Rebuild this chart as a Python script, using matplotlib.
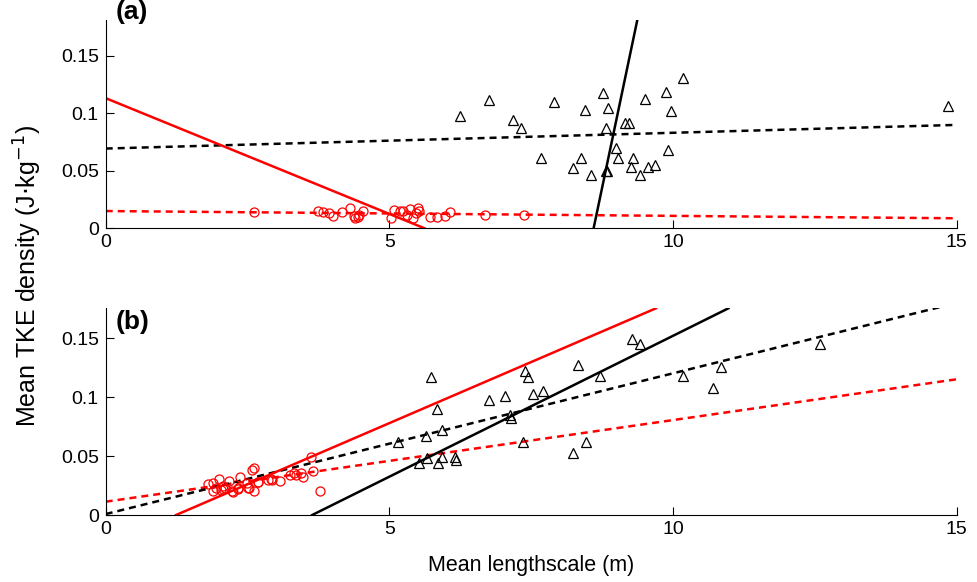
import numpy as np
import matplotlib
matplotlib.use("Agg")
import matplotlib.pyplot as plt

plt.rcParams['font.family'] = ['Liberation Sans', 'DejaVu Sans']

# panel (a) data
a_circ_x = [2.62, 3.75, 3.83, 3.93, 4.01, 4.17, 4.31, 4.37, 4.40, 4.44, 4.47, 4.53,
            5.03, 5.08, 5.18, 5.24, 5.31, 5.36, 5.42, 5.47, 5.50, 5.52, 5.71, 5.84,
            5.98, 6.07, 6.69, 7.38]
a_circ_y = [0.0144, 0.0153, 0.0142, 0.0136, 0.0107, 0.0142, 0.0174, 0.0107, 0.0087, 0.0096,
            0.0116, 0.0148, 0.0090, 0.0157, 0.0153, 0.0153, 0.0116, 0.0165, 0.0087, 0.0130,
            0.0177, 0.0153, 0.0096, 0.0101, 0.0107, 0.0144, 0.0116, 0.0116]
a_tri_x = [6.25, 6.76, 7.18, 7.32, 7.90, 7.68, 8.45, 8.37, 8.24, 8.56, 8.77, 8.85,
           8.82, 8.83, 8.81, 8.99, 9.03, 9.16, 9.22, 9.29, 9.26, 9.41, 9.50, 9.56,
           9.69, 9.87, 9.96, 9.91, 10.17, 14.84]
a_tri_y = [0.0977, 0.1116, 0.0942, 0.0870, 0.1098, 0.0609, 0.1029, 0.0609, 0.0527, 0.0461,
           0.1174, 0.1049, 0.0870, 0.0501, 0.0501, 0.0696, 0.0614, 0.0918, 0.0918, 0.0614,
           0.0530, 0.0466, 0.1124, 0.0536, 0.0550, 0.1185, 0.1023, 0.0681, 0.1304, 0.1063]

# panel (b) data
b_circ_x = [1.81, 1.90, 1.94, 2.00, 2.03, 2.06, 2.10, 2.18, 2.22, 2.34, 2.37, 2.49,
            2.53, 2.58, 2.61, 2.62, 2.68, 2.86, 2.91, 3.07, 3.24, 3.32, 3.35, 3.44,
            3.47, 3.61, 3.65, 3.78, 1.90, 2.06, 2.24, 2.33, 2.51, 2.69, 2.94]
b_circ_y = [0.0261, 0.0274, 0.0227, 0.0303, 0.0212, 0.0249, 0.0227, 0.0289, 0.0204, 0.0227,
            0.0325, 0.0269, 0.0227, 0.0382, 0.0396, 0.0206, 0.0283, 0.0297, 0.0306, 0.0291,
            0.0340, 0.0354, 0.0340, 0.0354, 0.0325, 0.0495, 0.0376, 0.0206, 0.0202, 0.0218,
            0.0193, 0.0218, 0.0227, 0.0283, 0.0297]
b_tri_x = [5.74, 5.84, 5.92, 5.64, 5.15, 5.53, 5.66, 5.85, 5.92, 6.16, 6.18, 6.76,
           7.04, 7.13, 7.14, 7.35, 7.39, 7.45, 7.54, 7.70, 8.23, 8.46, 8.32, 8.71,
           9.27, 9.41, 10.18, 10.85, 10.71, 12.59]
b_tri_y = [0.1174, 0.0897, 0.0722, 0.0673, 0.0622, 0.0444, 0.0481, 0.0439, 0.0495, 0.0490,
           0.0467, 0.0976, 0.1010, 0.0849, 0.0821, 0.0622, 0.1222, 0.1169, 0.1027, 0.1055,
           0.0524, 0.0622, 0.1273, 0.1180, 0.1494, 0.1449, 0.1182, 0.1259, 0.1081, 0.1449]

# fits: dashed y = c0 + c1*x ; solid x = c0 + c1*y
a_red_dash = [0.0150, -0.00042]
a_blk_dash = [0.0693, 0.00137]
a_red_solid = [5.62, -49.7]
a_blk_solid = [8.60, 4.255]
b_red_dash = [0.0113, 0.00693]
b_blk_dash = [0.0008, 0.01195]
b_red_solid = [1.24, 48.2]
b_blk_solid = [3.64, 41.8]

ylims = [0.181, 0.1755]

fig = plt.figure(figsize=(9.78, 5.82), dpi=100)
ax1 = fig.add_axes([105.7 / 978, 1 - 228.3 / 582, 851 / 978, 208.3 / 582])
ax2 = fig.add_axes([105.7 / 978, 1 - 515 / 582, 851 / 978, 206.7 / 582])

panels = [
    (ax1, a_circ_x, a_circ_y, a_tri_x, a_tri_y, a_red_dash, a_blk_dash, a_red_solid, a_blk_solid, ylims[0]),
    (ax2, b_circ_x, b_circ_y, b_tri_x, b_tri_y, b_red_dash, b_blk_dash, b_red_solid, b_blk_solid, ylims[1]),
]

xs = np.linspace(0, 15, 200)
for ax, cx, cy, tx, ty, rd, bd, rs, bs, ytop in panels:
    ys = np.linspace(0, ytop, 200)
    ax.plot(tx, ty, '^', mfc='none', mec='black', ms=7.5, mew=0.9, zorder=3)
    ax.plot(cx, cy, 'o', mfc='none', mec='red', ms=6.5, mew=0.9, zorder=3)
    ax.plot(xs, rd[0] + rd[1] * xs, color='red', lw=1.8, dashes=(2.8, 2.0))
    ax.plot(xs, bd[0] + bd[1] * xs, color='black', lw=1.8, dashes=(2.8, 2.0))
    ax.plot(rs[0] + rs[1] * ys, ys, color='red', lw=1.8)
    ax.plot(bs[0] + bs[1] * ys, ys, color='black', lw=1.8)

    ax.set_xlim(0, 15)
    ax.set_ylim(0, ytop)
    ax.set_xticks([0, 5, 10, 15])
    ax.set_xticklabels(['0', '5', '10', '15'], fontsize=14)
    ax.set_yticks([0, 0.05, 0.1, 0.15])
    ax.set_yticklabels(['0', '0.05', '0.1', '0.15'], fontsize=14)
    ax.tick_params(direction='in', length=5.5, width=0.8, pad=5)
    ax.tick_params(axis='x', pad=4)
    ax.spines['top'].set_visible(False)
    ax.spines['right'].set_visible(False)
    for s in ['left', 'bottom']:
        ax.spines[s].set_linewidth(0.8)

fig.text(116 / 978, 1 - 12 / 582, '(a)', fontsize=19, fontweight='bold', ha='left', va='center')
fig.text(116 / 978, 1 - 322 / 582, '(b)', fontsize=19, fontweight='bold', ha='left', va='center')

fig.text(28 / 978, 1 - 276 / 582, r'Mean TKE density (J$\cdot$kg$^{-1}$)', rotation=90,
         fontsize=18, ha='center', va='center')
fig.text(531 / 978, 1 - 566 / 582, 'Mean lengthscale (m)', fontsize=15.5,
         ha='center', va='center')

plt.savefig('out.png', dpi=100)
